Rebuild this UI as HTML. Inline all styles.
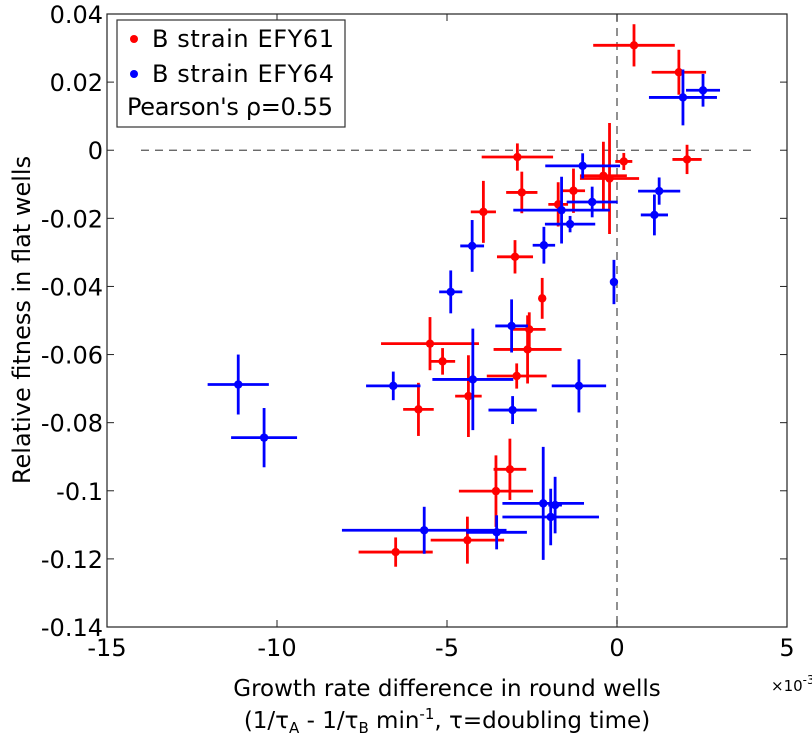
<!DOCTYPE html>
<html><head><meta charset="utf-8"><style>
html,body{margin:0;padding:0;background:#fff;}
svg{display:block;font-family:"DejaVu Sans","Liberation Sans",sans-serif;}
</style></head><body>
<svg id="chart" width="812" height="740" viewBox="0 0 812 740">
<g id="series"></g>
<g id="axes"></g>
</svg>
<script>
const xTicks=[-15,-10,-5,0,5];
const xTickLabels=["-15","-10","-5","0","5"];
const yTicks=[0.04,0.02,0,-0.02,-0.04,-0.06,-0.08,-0.1,-0.12,-0.14];
const yTickLabels=["0.04","0.02","0","-0.02","-0.04","-0.06","-0.08","-0.1","-0.12","-0.14"];
// EFY61 (red)
const redX=[0.5,1.82,2.06,0.2,-2.93,-0.40,-0.22,-2.80,-1.28,-1.73,-3.93,-3.0,-2.2,-2.58,-2.63,-5.5,-5.13,-4.37,-2.95,-5.84,-3.15,-3.56,-4.40,-6.51];
const redY=[0.0308,0.0229,-0.0027,-0.0033,-0.002,-0.0075,-0.0083,-0.0124,-0.0119,-0.0159,-0.0181,-0.0313,-0.0435,-0.0526,-0.0585,-0.0568,-0.062,-0.0722,-0.0663,-0.0761,-0.0937,-0.1001,-0.1145,-0.118];
const redXErr=[1.2,0.8,0.43,0.25,1.05,0.69,0.87,0.46,0.34,0.29,0.37,0.53,0.1,0.48,1.0,1.44,0.37,0.39,0.88,0.45,0.48,1.09,1.08,1.09];
const redYErr=[0.0062,0.0066,0.0043,0.0025,0.004,0.01,0.0163,0.0061,0.0065,0.0065,0.0091,0.0049,0.006,0.005,0.01,0.0078,0.0039,0.012,0.0037,0.0078,0.009,0.0105,0.0069,0.0043];
// EFY64 (blue)
const blueX=[1.94,2.53,1.24,1.1,-1.01,-0.73,-1.63,-1.38,-4.26,-2.15,-0.09,-4.89,-3.10,-6.58,-4.24,-1.12,-3.07,-11.14,-10.38,-2.17,-1.82,-1.95,-5.67,-3.54];
const blueY=[0.0155,0.0176,-0.012,-0.019,-0.0046,-0.0152,-0.0176,-0.0217,-0.0281,-0.0279,-0.0387,-0.0416,-0.0516,-0.0692,-0.0673,-0.0692,-0.0763,-0.0688,-0.0844,-0.1037,-0.1042,-0.1077,-0.1116,-0.1122];
const blueXErr=[1.0,0.5,0.62,0.4,1.1,0.75,1.42,0.74,0.35,0.33,0.1,0.34,0.48,0.8,1.19,0.8,0.71,0.9,0.97,1.2,0.2,1.42,2.42,0.89];
const blueYErr=[0.0082,0.0048,0.004,0.006,0.0037,0.0045,0.0098,0.0024,0.0076,0.0054,0.0065,0.0063,0.0078,0.0042,0.0149,0.0078,0.0041,0.0088,0.0087,0.0166,0.0083,0.0083,0.0069,0.005];

const L=107,R=787,T=14,B=627;
const xMin=-15,xMax=5,yMin=-0.14,yMax=0.04;
const X=v=>L+(v-xMin)/(xMax-xMin)*(R-L);
const Y=v=>B-(v-yMin)/(yMax-yMin)*(B-T);
const NS="http://www.w3.org/2000/svg";
function mk(tag,attrs,parent){const e=document.createElementNS(NS,tag);for(const k in attrs)e.setAttribute(k,attrs[k]);parent.appendChild(e);return e;}
const gS=document.getElementById('series');
const gA=document.getElementById('axes');

let dh=mk('line',{x1:X(-14),x2:X(4),y1:Y(0),y2:Y(0),stroke:'#555','stroke-width':1.3,'stroke-dasharray':'8,6'},gS);


let dv=mk('line',{x1:X(0),x2:X(0),y1:T,y2:B,stroke:'#555','stroke-width':1.3,'stroke-dasharray':'8,6'},gS);



function drawSeries(xs,ys,xe,ye,color,name){
  const g=mk('g',{},gS);
  
  
  for(let i=0;i<xs.length;i++){
    const p=mk('g',{},g);
    
    
    mk('line',{x1:X(xs[i]-xe[i]),x2:X(xs[i]+xe[i]),y1:Y(ys[i]),y2:Y(ys[i]),stroke:color,'stroke-width':2.8},p);
    mk('line',{x1:X(xs[i]),x2:X(xs[i]),y1:Y(ys[i]-ye[i]),y2:Y(ys[i]+ye[i]),stroke:color,'stroke-width':2.8},p);
    mk('circle',{cx:X(xs[i]),cy:Y(ys[i]),r:4.2,fill:color},p);
  }
}
drawSeries(redX,redY,redXErr,redYErr,'#ff0000','efy61');
drawSeries(blueX,blueY,blueXErr,blueYErr,'#0000ff','efy64');

let fr=mk('rect',{x:L,y:T,width:R-L,height:B-T,fill:'none',stroke:'#222','stroke-width':1.2},gA);


xTicks.forEach((v,i)=>{
  mk('line',{x1:X(v),x2:X(v),y1:B,y2:B-7,stroke:'#222','stroke-width':1},gA);
  mk('line',{x1:X(v),x2:X(v),y1:T,y2:T+7,stroke:'#222','stroke-width':1},gA);
  const t=mk('text',{x:X(v),y:B+29,'text-anchor':'middle','font-size':24,fill:'#000'},gA);
  t.textContent=xTickLabels[i];
  
  
});
yTicks.forEach((v,i)=>{
  mk('line',{x1:L,x2:L+7,y1:Y(v),y2:Y(v),stroke:'#222','stroke-width':1},gA);
  mk('line',{x1:R,x2:R-7,y1:Y(v),y2:Y(v),stroke:'#222','stroke-width':1},gA);
  const t=mk('text',{x:L-4,y:Y(v)+9,'text-anchor':'end','font-size':24,fill:'#000'},gA);
  t.textContent=yTickLabels[i];
  
  
});
</script>
<svg style="position:absolute;left:0;top:0" width="812" height="740">
  <g font-family="DejaVu Sans, Liberation Sans, sans-serif">
    <g>
      <rect x="117" y="20" width="228" height="107" fill="#fff" stroke="#333" stroke-width="1.2"/>
      <circle cx="134" cy="39" r="4" fill="#ff0000"/>
      <text x="152" y="47" font-size="24" textLength="182">B strain EFY61</text>
      <circle cx="134" cy="74" r="4" fill="#0000ff"/>
      <text x="152" y="82" font-size="24" textLength="182">B strain EFY64</text>
      <text x="127" y="115" font-size="24" textLength="206">Pearson's ρ=0.55</text>
    </g>
    <text x="771" y="691" font-size="15">×10<tspan dy="-7" font-size="12">-3</tspan></text>
    <text x="447" y="696" font-size="23" text-anchor="middle">Growth rate difference in round wells</text>
    <text x="447" y="728" font-size="23" text-anchor="middle">(1/τ<tspan font-size="15" dy="5">A</tspan><tspan dy="-5"> - 1/τ</tspan><tspan font-size="15" dy="5">B</tspan><tspan dy="-5"> min</tspan><tspan font-size="15" dy="-9">-1</tspan><tspan dy="9">, τ=doubling time)</tspan></text>
    <text x="0" y="0" font-size="24" text-anchor="middle" transform="translate(30,320) rotate(-90)">Relative fitness in flat wells</text>
  </g>
</svg>
</body></html>
